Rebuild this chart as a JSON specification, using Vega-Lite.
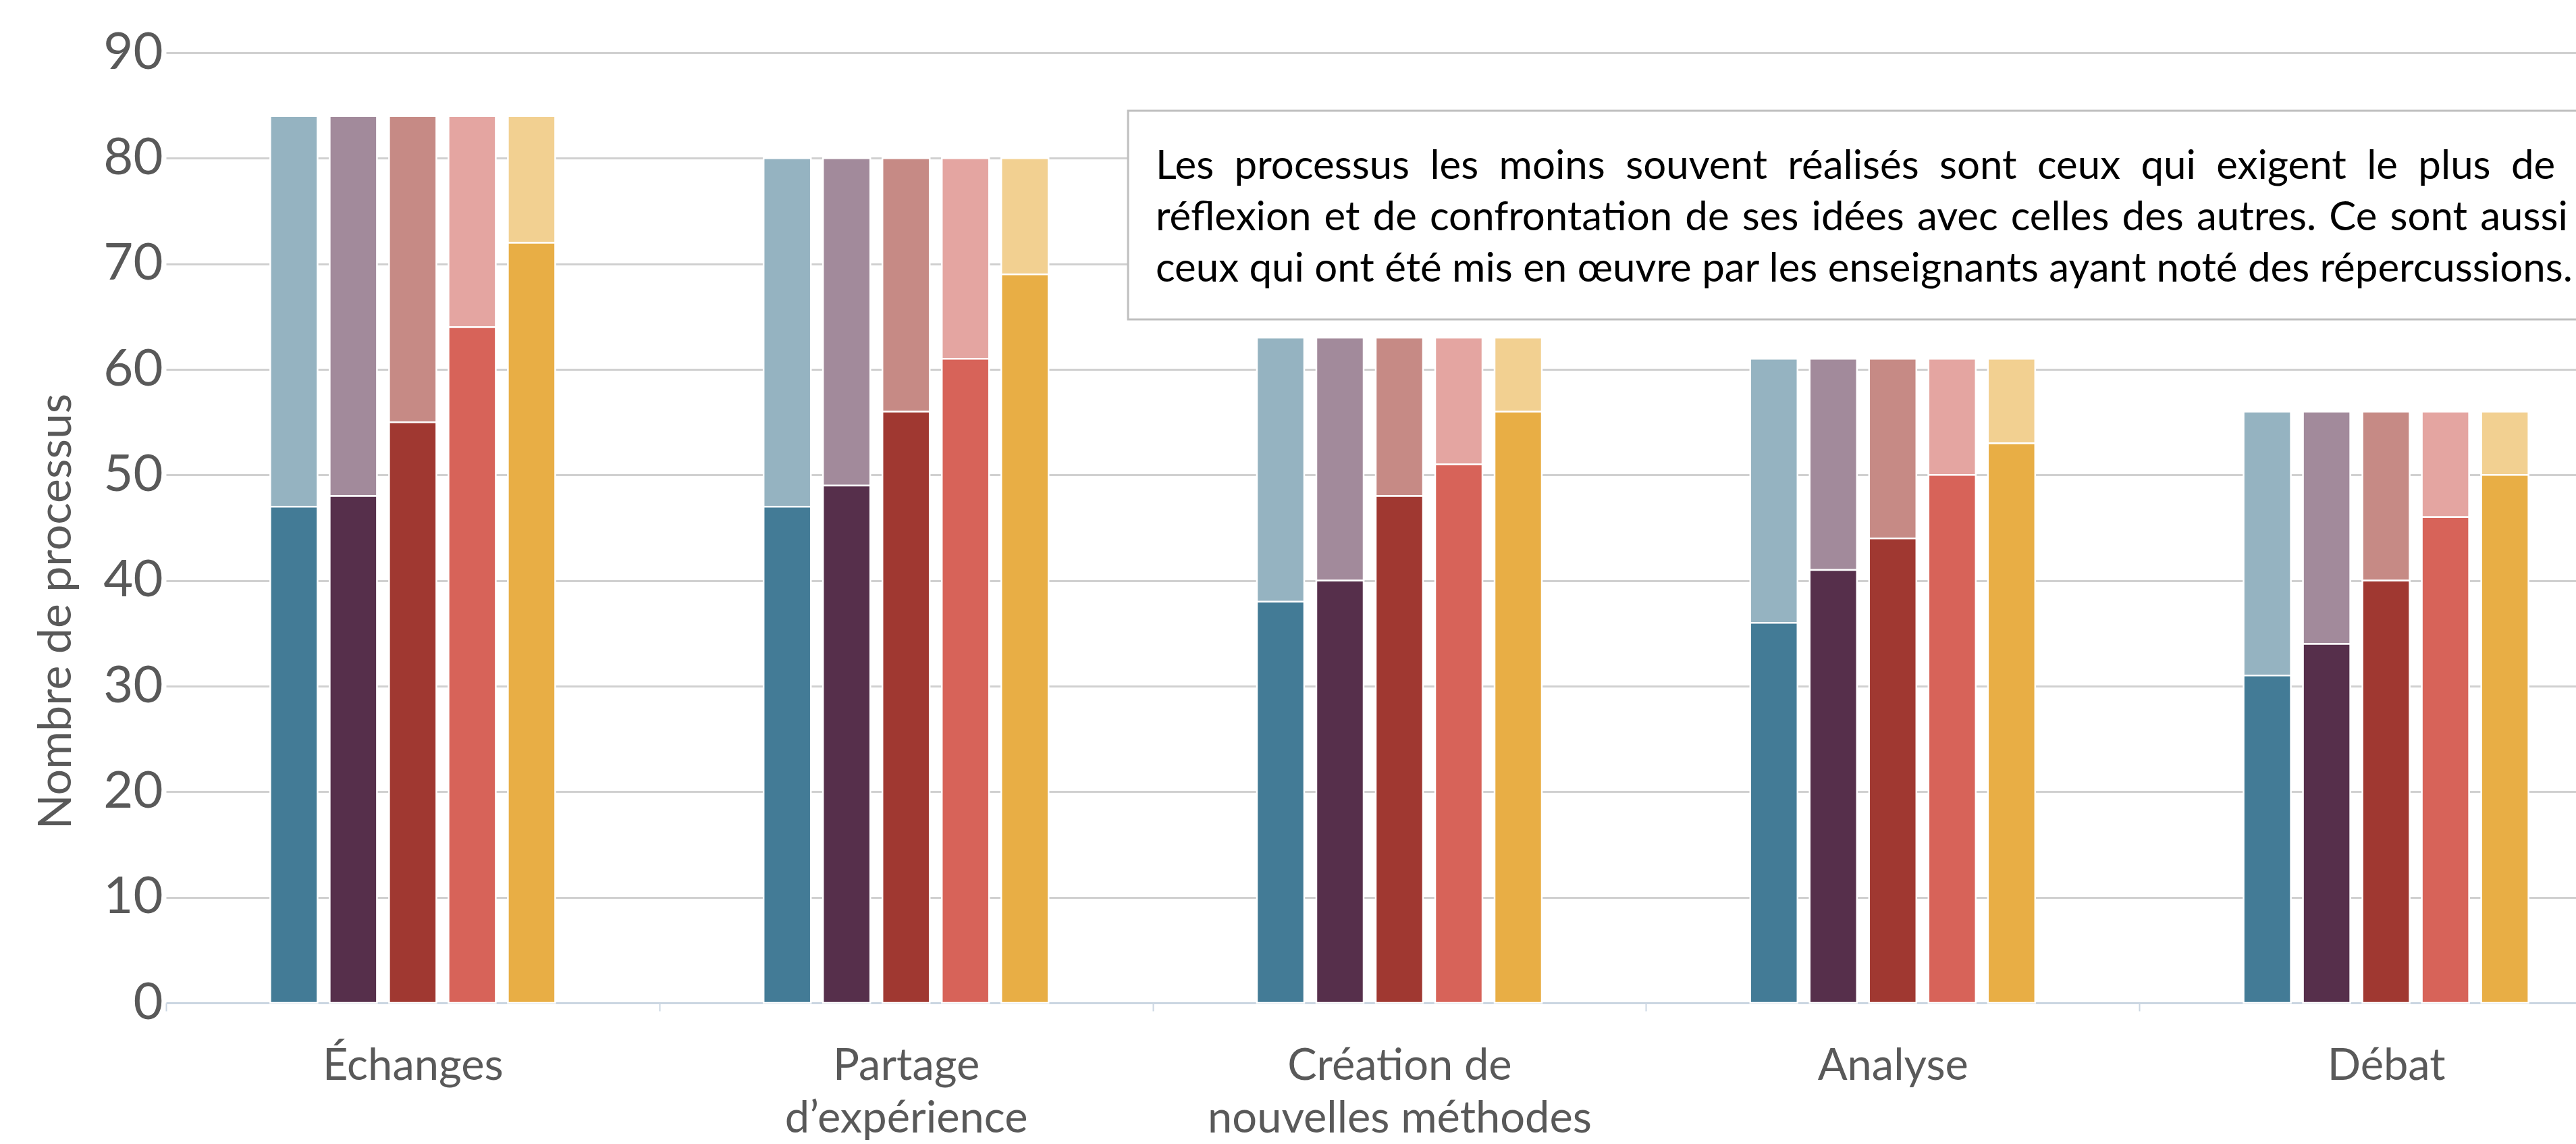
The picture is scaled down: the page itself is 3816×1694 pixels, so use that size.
{
  "$schema": "https://vega.github.io/schema/vega-lite/v6.json",
  "autosize": {"type": "none"},
  "padding": {"left": 261, "top": 78, "right": 0, "bottom": 209},
  "width": 3555,
  "height": 1407,
  "background": "white",
  "config": {
    "view": {"stroke": null},
    "font": "Lato",
    "axis": {"labelFont": "Lato", "titleFont": "Lato"}
  },
  "datasets": {
    "barres": [
      {"categorie": "Échanges", "serie": "Série 1", "total": 84, "realises": 47},
      {"categorie": "Échanges", "serie": "Série 2", "total": 84, "realises": 48},
      {"categorie": "Échanges", "serie": "Série 3", "total": 84, "realises": 55},
      {"categorie": "Échanges", "serie": "Série 4", "total": 84, "realises": 64},
      {"categorie": "Échanges", "serie": "Série 5", "total": 84, "realises": 72},
      {"categorie": "Partage d’expérience", "serie": "Série 1", "total": 80, "realises": 47},
      {"categorie": "Partage d’expérience", "serie": "Série 2", "total": 80, "realises": 49},
      {"categorie": "Partage d’expérience", "serie": "Série 3", "total": 80, "realises": 56},
      {"categorie": "Partage d’expérience", "serie": "Série 4", "total": 80, "realises": 61},
      {"categorie": "Partage d’expérience", "serie": "Série 5", "total": 80, "realises": 69},
      {"categorie": "Création de nouvelles méthodes", "serie": "Série 1", "total": 63, "realises": 38},
      {"categorie": "Création de nouvelles méthodes", "serie": "Série 2", "total": 63, "realises": 40},
      {"categorie": "Création de nouvelles méthodes", "serie": "Série 3", "total": 63, "realises": 48},
      {"categorie": "Création de nouvelles méthodes", "serie": "Série 4", "total": 63, "realises": 51},
      {"categorie": "Création de nouvelles méthodes", "serie": "Série 5", "total": 63, "realises": 56},
      {"categorie": "Analyse", "serie": "Série 1", "total": 61, "realises": 36},
      {"categorie": "Analyse", "serie": "Série 2", "total": 61, "realises": 41},
      {"categorie": "Analyse", "serie": "Série 3", "total": 61, "realises": 44},
      {"categorie": "Analyse", "serie": "Série 4", "total": 61, "realises": 50},
      {"categorie": "Analyse", "serie": "Série 5", "total": 61, "realises": 53},
      {"categorie": "Débat", "serie": "Série 1", "total": 56, "realises": 31},
      {"categorie": "Débat", "serie": "Série 2", "total": 56, "realises": 34},
      {"categorie": "Débat", "serie": "Série 3", "total": 56, "realises": 40},
      {"categorie": "Débat", "serie": "Série 4", "total": 56, "realises": 46},
      {"categorie": "Débat", "serie": "Série 5", "total": 56, "realises": 50}
    ],
    "note": [
      {
        "x1": 1.95, "x2": 5.4, "y1": 84.5, "y2": 64.73, "xt": 2.006, "yt": 78.04,
        "texte": "Les \u2005processus \u2005les \u2005moins \u2005souvent \u2005réalisés \u2005sont \u2005ceux \u2005qui \u2005exigent \u2005le \u2005plus \u2005de\nréflexion \u200Aet \u200Ade \u200Aconfrontation \u200Ade \u200Ases \u200Aidées \u200Aavec \u200Acelles \u200Ades \u200Aautres. \u200ACe \u200Asont \u200Aaussi\nceux qui ont été mis en œuvre par les enseignants ayant noté des répercussions."
      }
    ]
  },
  "layer": [
    {
      "data": {"name": "barres"},
      "mark": {"type": "bar", "stroke": "white", "strokeWidth": 2.5},
      "encoding": {
        "x": {
          "field": "categorie", "type": "nominal", "sort": null,
          "scale": {"type": "band", "range": [-15, 3639], "paddingInner": 0, "paddingOuter": 0},
          "axis": {
            "title": null, "labelAngle": 0, "domain": false, "labelLimit": 0,
            "labelFontSize": 65, "labelColor": "#595959", "labelPadding": 50,
            "labelLineHeight": 78,
            "labelExpr": "datum.label == 'Partage d’expérience' ? ['Partage', 'd’expérience'] : datum.label == 'Création de nouvelles méthodes' ? ['Création de', 'nouvelles méthodes'] : datum.label",
            "tickBand": "extent", "ticks": true, "tickSize": 12, "tickWidth": 2, "tickColor": "#CBD6E2",
            "grid": false
          }
        },
        "xOffset": {
          "field": "serie", "type": "nominal",
          "scale": {"range": [145.4, 585.4], "paddingInner": 0.2045, "paddingOuter": 0.102}
        },
        "y": {
          "field": "total", "type": "quantitative", "title": "Nombre de processus",
          "scale": {"domain": [0, 90], "nice": false},
          "axis": {
            "values": [0, 10, 20, 30, 40, 50, 60, 70, 80, 90],
            "domain": false, "ticks": false,
            "labelFontSize": 76, "labelColor": "#595959", "labelPadding": 20,
            "grid": true, "gridWidth": 3,
            "gridColor": {"condition": {"test": "datum.value === 0", "value": "#CBD6E2"}, "value": "#D0D0D0"},
            "titleFontSize": 68, "titleFontWeight": "normal", "titleColor": "#595959",
            "titleAngle": -90, "titleBaseline": "alphabetic", "titleAlign": "center",
            "titleX": -157, "titleY": 827
          }
        },
        "y2": {"field": "realises"},
        "color": {
          "field": "serie", "type": "nominal", "legend": null,
          "scale": {
            "domain": ["Série 1", "Série 2", "Série 3", "Série 4", "Série 5"],
            "range": ["#95B3C1", "#A28A9B", "#C68A85", "#E4A5A1", "#F2D091"]
          }
        }
      }
    },
    {
      "data": {"name": "barres"},
      "mark": {"type": "bar", "stroke": "white", "strokeWidth": 2.5},
      "encoding": {
        "x": {
          "field": "categorie", "type": "nominal", "sort": null,
          "scale": {"type": "band", "range": [-15, 3639], "paddingInner": 0, "paddingOuter": 0},
          "axis": null
        },
        "xOffset": {
          "field": "serie", "type": "nominal",
          "scale": {"range": [145.4, 585.4], "paddingInner": 0.2045, "paddingOuter": 0.102}
        },
        "y": {"field": "realises", "type": "quantitative", "title": "Nombre de processus"},
        "color": {
          "field": "serie", "type": "nominal", "legend": null,
          "scale": {
            "domain": ["Série 1", "Série 2", "Série 3", "Série 4", "Série 5"],
            "range": ["#437B96", "#562F4B", "#A03831", "#D76359", "#E8AE45"]
          }
        }
      }
    },
    {
      "data": {"name": "note"},
      "mark": {"type": "rect", "fill": "white", "stroke": "#BFBFBF", "strokeWidth": 3},
      "encoding": {
        "x": {"field": "x1", "type": "quantitative", "scale": {"domain": [0, 5], "range": [-15, 3639]}, "axis": null},
        "x2": {"field": "x2"},
        "y": {"field": "y1", "type": "quantitative", "title": "Nombre de processus"},
        "y2": {"field": "y2"}
      }
    },
    {
      "data": {"name": "note"},
      "mark": {"type": "text", "align": "left", "baseline": "alphabetic", "lineBreak": "\n", "lineHeight": 76, "fontSize": 60, "font": "Lato", "color": "#000000"},
      "encoding": {
        "x": {"field": "xt", "type": "quantitative", "scale": {"domain": [0, 5], "range": [-15, 3639]}, "axis": null},
        "y": {"field": "yt", "type": "quantitative", "title": "Nombre de processus"},
        "text": {"field": "texte", "type": "nominal"}
      }
    }
  ],
  "resolve": {
    "scale": {"color": "independent", "x": "independent"},
    "axis": {"x": "independent"}
  }
}
